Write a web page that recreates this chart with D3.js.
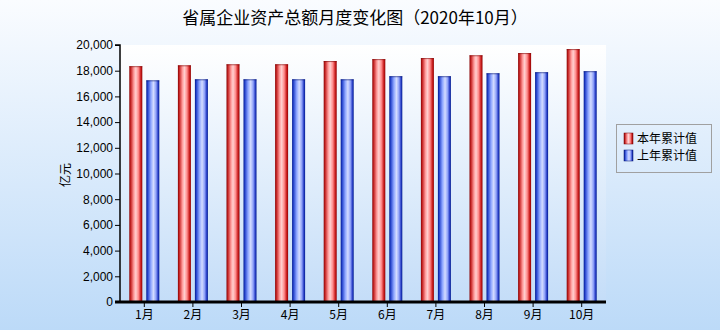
<!DOCTYPE html>
<html>
<head>
<meta charset="utf-8">
<script src="https://cdn.jsdelivr.net/npm/d3@7"></script>
<style>
  body { margin: 0; }
  svg { display: block; }
</style>
</head>
<body>
<div class="result"></div>
<script>
// data
const months = ['1月', '2月', '3月', '4月', '5月', '6月', '7月', '8月', '9月', '10月'];
const seriesNames = ['本年累计值', '上年累计值'];
const thisYear = [18350, 18420, 18500, 18500, 18750, 18900, 18980, 19200, 19370, 19680];
const lastYear = [17250, 17330, 17330, 17330, 17330, 17570, 17570, 17800, 17880, 17960];
const yTicks = [0, 2000, 4000, 6000, 8000, 10000, 12000, 14000, 16000, 18000, 20000];

const w = 720;
const h = 330;
const plotLeft = 120, plotRight = 606, plotTop = 45, plotBottom = 302;

const svg = d3.select('.result')
  .append('svg')
  .attr('width', w)
  .attr('height', h);

const defs = svg.append('defs');

// background gradients
const bg = defs.append('linearGradient').attr('id', 'bg')
  .attr('x1', 0).attr('y1', 0).attr('x2', 0).attr('y2', 1);
bg.append('stop').attr('offset', 0).attr('stop-color', '#fafcff');
bg.append('stop').attr('offset', 1).attr('stop-color', '#bcdaf8');

const plotBg = defs.append('linearGradient').attr('id', 'plotBg')
  .attr('x1', 0).attr('y1', 0).attr('x2', 0).attr('y2', 1);
plotBg.append('stop').attr('offset', 0).attr('stop-color', '#ffffff');
plotBg.append('stop').attr('offset', 1).attr('stop-color', '#c4ddf8');

// cylinder look for the bars
function barGradient(id, stops) {
  const g = defs.append('linearGradient').attr('id', id)
    .attr('x1', 0).attr('y1', 0).attr('x2', 1).attr('y2', 0);
  stops.forEach(function (s) {
    g.append('stop').attr('offset', s[0]).attr('stop-color', s[1]);
  });
}
barGradient('gRed', [[0, '#8a0000'], [0.12, '#c82828'], [0.35, '#ff9c9c'], [0.5, '#ffd0d0'],
  [0.7, '#ff8c8c'], [0.88, '#cc2020'], [1, '#900000']]);
barGradient('gBlue', [[0, '#001890'], [0.12, '#2a48d0'], [0.35, '#8ea6ff'], [0.55, '#d4dcff'],
  [0.75, '#8ea0f8'], [0.9, '#2a40c8'], [1, '#001a8c']]);

svg.append('rect').attr('width', w).attr('height', h).attr('fill', 'url(#bg)');
svg.append('rect')
  .attr('x', plotLeft).attr('y', plotTop)
  .attr('width', plotRight - plotLeft).attr('height', plotBottom - plotTop)
  .attr('fill', 'url(#plotBg)');

// scales
const x0 = d3.scaleBand().domain(months).range([plotLeft, plotRight]).padding(0);
const x1 = d3.scaleBand().domain(seriesNames).range([0, 30]).paddingInner(0.235);
const y = d3.scaleLinear().domain([0, 20000]).range([plotBottom, plotTop]);

const rows = months.map(function (m, i) {
  return { month: m, values: [thisYear[i], lastYear[i]] };
});
const fills = ['url(#gRed)', 'url(#gBlue)'];
const edges = ['#7a0000', '#00106e'];

const groups = svg.selectAll('g.grp')
  .data(rows)
  .enter()
  .append('g')
  .attr('class', 'grp')
  .attr('transform', function (d) {
    return 'translate(' + (x0(d.month) + (x0.bandwidth() - 30) / 2) + ',0)';
  });

groups.selectAll('rect')
  .data(function (d) {
    return d.values.map(function (v, k) { return { k: k, v: v }; });
  })
  .enter()
  .append('rect')
  .attr('x', function (d) { return x1(seriesNames[d.k]); })
  .attr('y', function (d) { return y(d.v); })
  .attr('width', x1.bandwidth())
  .attr('height', function (d) { return plotBottom - y(d.v); })
  .attr('fill', function (d) { return fills[d.k]; });

// thin top edge
groups.selectAll('line.cap')
  .data(function (d) {
    return d.values.map(function (v, k) { return { k: k, v: v }; });
  })
  .enter()
  .append('line')
  .attr('class', 'cap')
  .attr('x1', function (d) { return x1(seriesNames[d.k]); })
  .attr('x2', function (d) { return x1(seriesNames[d.k]) + x1.bandwidth(); })
  .attr('y1', function (d) { return y(d.v) + 0.5; })
  .attr('y2', function (d) { return y(d.v) + 0.5; })
  .attr('stroke', function (d) { return edges[d.k]; })
  .attr('stroke-opacity', 0.6);

// Y axis
const yAxis = d3.axisLeft(y)
  .tickValues(yTicks)
  .tickSize(5)
  .tickPadding(2)
  .tickFormat(d3.format(','));

const gy = svg.append('g')
  .attr('transform', 'translate(' + plotLeft + ',0)')
  .call(yAxis);
gy.select('.domain').attr('stroke', '#000').attr('stroke-width', 1.5)
  .attr('d', 'M-5,' + plotTop + 'H0V' + plotBottom);
gy.selectAll('text')
  .attr('font-family', '"Liberation Sans", Arial, sans-serif')
  .attr('font-size', 12)
  .attr('fill', '#000');

// X axis
const xAxis = d3.axisBottom(x0).tickSize(5).tickPadding(3).tickSizeOuter(0);
const gx = svg.append('g')
  .attr('transform', 'translate(0,' + plotBottom + ')')
  .call(xAxis);
gx.select('.domain').remove();
gx.selectAll('text')
  .attr('font-family', '"Noto Sans CJK SC", sans-serif')
  .attr('font-size', 12)
  .attr('fill', '#000');
svg.append('line')
  .attr('x1', plotLeft - 5).attr('x2', plotRight)
  .attr('y1', plotBottom).attr('y2', plotBottom)
  .attr('stroke', '#000').attr('stroke-width', 3);

// Y axis title
svg.append('text')
  .attr('transform', 'translate(70,175) rotate(-90)')
  .attr('text-anchor', 'middle')
  .attr('font-family', '"Noto Sans CJK SC", sans-serif')
  .attr('font-size', 12)
  .text('亿元');

// title
svg.append('text')
  .attr('x', 355)
  .attr('y', 24)
  .attr('text-anchor', 'middle')
  .attr('font-family', '"Noto Sans CJK SC", sans-serif')
  .attr('font-size', 17)
  .attr('fill', '#000')
  .text('省属企业资产总额月度变化图（2020年10月）');

// legend
const legend = svg.append('g').attr('transform', 'translate(616,124)');
legend.append('rect')
  .attr('x', 0.5).attr('y', 0.5)
  .attr('width', 95).attr('height', 48)
  .attr('fill', 'none')
  .attr('stroke', '#a0a0a0');
seriesNames.forEach(function (name, k) {
  const item = legend.append('g').attr('transform', 'translate(8,' + (9 + k * 17) + ')');
  item.append('rect')
    .attr('width', 9).attr('height', 11)
    .attr('fill', fills[k])
    .attr('stroke', edges[k]).attr('stroke-width', 0.5);
  item.append('text')
    .attr('x', 13).attr('y', 6)
    .attr('dy', '0.35em')
    .attr('font-family', '"Noto Sans CJK SC", sans-serif')
    .attr('font-size', 12)
    .text(name);
});
</script>
</body>
</html>
